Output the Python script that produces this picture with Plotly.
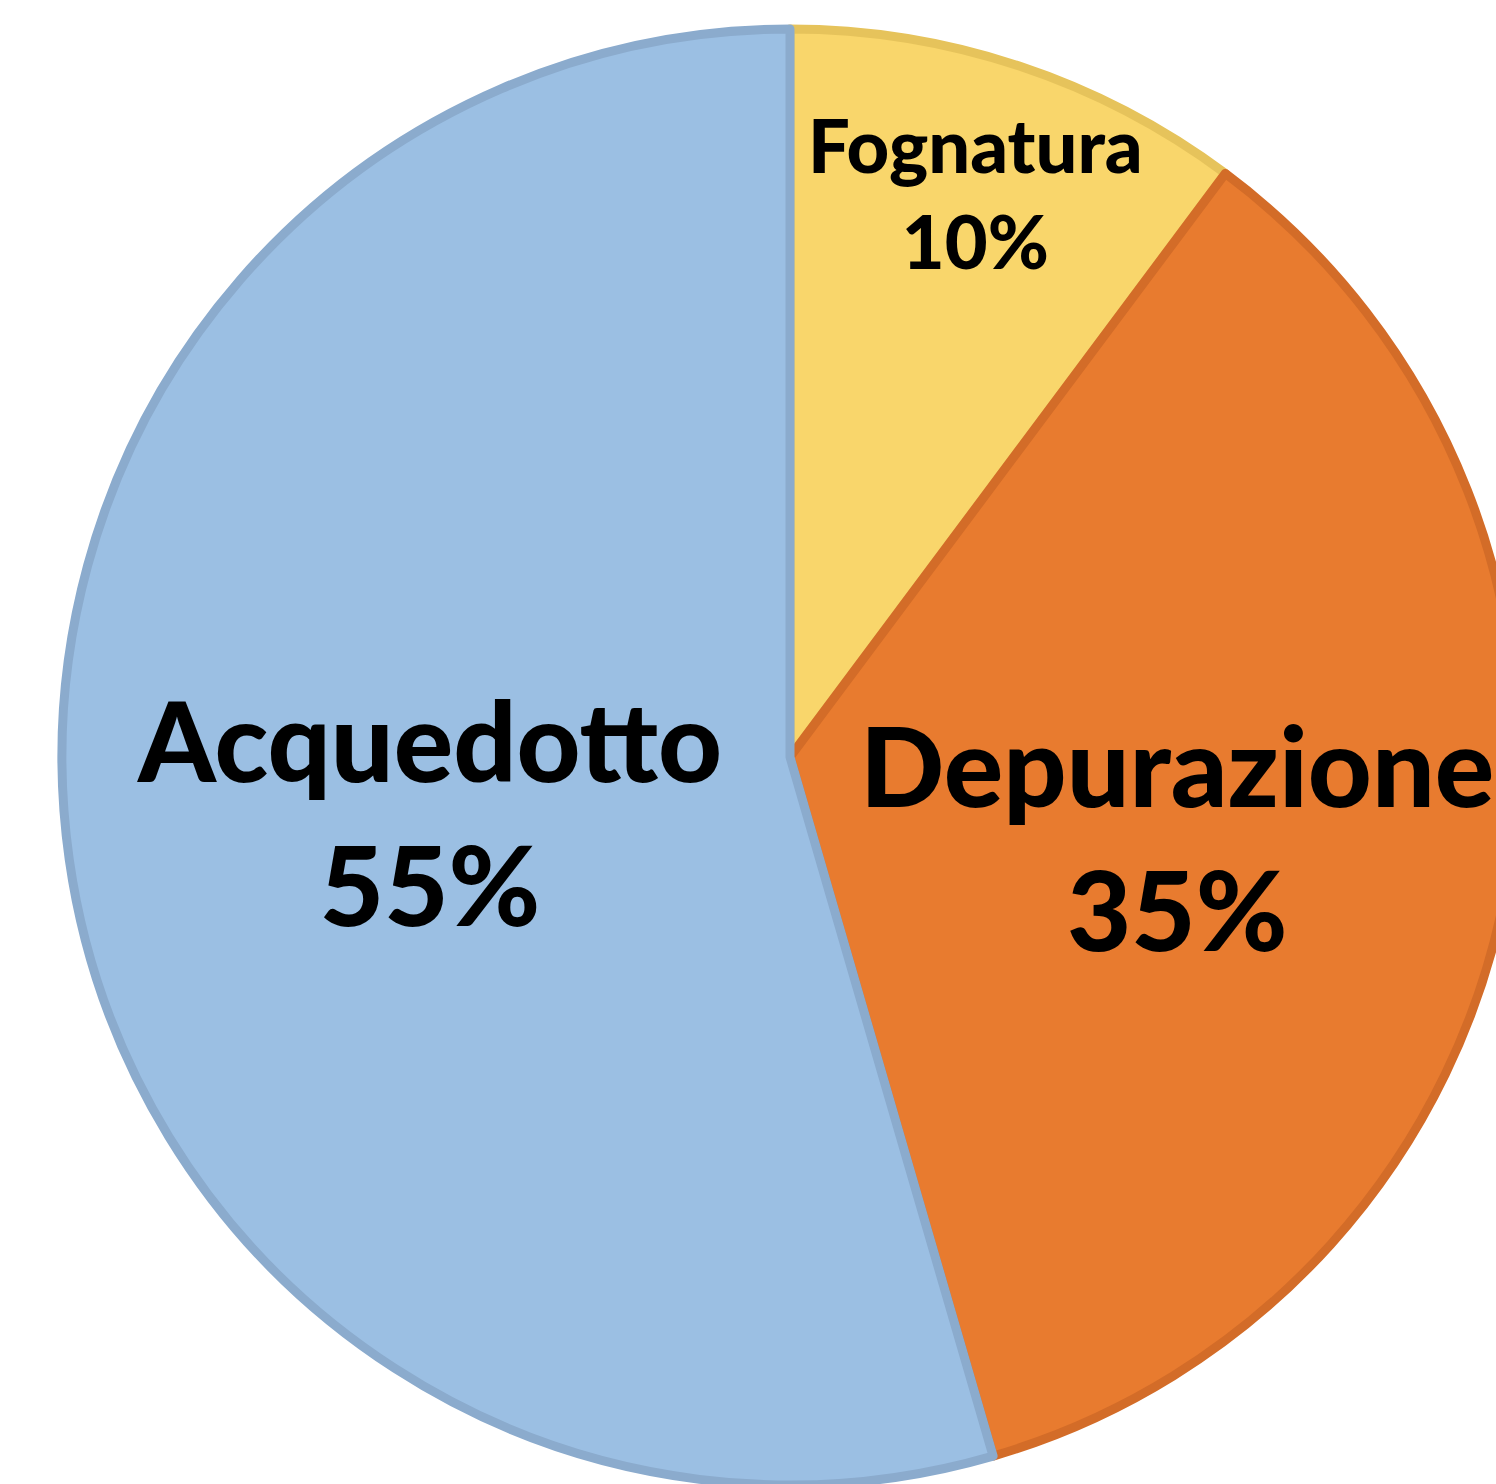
import math
import plotly.graph_objects as go

# ---- data ----
labels = ["Fognatura", "Depurazione", "Acquedotto"]
values = [10.2, 35.3, 54.5]

# ---- styles ----
fill_colors = ["#F9D66B", "#E87B2F", "#9BBFE3"]
line_colors = ["#E6C35B", "#D36C28", "#8BABCD"]
label_sizes = [74, 111, 111]
label_radius_frac = [0.81, 0.54, 0.50]
label_dy_px = [-5, 9, 3]

W, H = 1530, 1500
cx, cy, R = 790, 757, 728  # pie centre / radius in pixels

fig = go.Figure(go.Pie(
    labels=labels,
    values=values,
    sort=False,
    direction="clockwise",
    rotation=0,
    textinfo="none",
    hoverinfo="label+percent",
    marker=dict(colors=fill_colors, line=dict(color=line_colors, width=9)),
    domain=dict(x=[(cx - R) / W, (cx + R) / W],
                y=[(H - cy - R) / H, (H - cy + R) / H]),
    showlegend=False,
))

total = sum(values)
cum = 0
annotations = []
for lab, v, size, frac, dy in zip(labels, values, label_sizes, label_radius_frac, label_dy_px):
    mid = (cum + v / 2) / total * 2 * math.pi
    cum += v
    px = cx + frac * R * math.sin(mid)
    py = cy - frac * R * math.cos(mid) + dy
    pct = int(100 * v / total + 0.5)
    annotations.append(dict(
        x=px / W, y=1 - py / H, xref="paper", yref="paper",
        xanchor="center", yanchor="middle", showarrow=False,
        text=f"{lab}<br>{pct}%",
        font=dict(family="Lato", size=size, color="black", weight=900),
    ))

fig.update_layout(
    width=W, height=H,
    margin=dict(l=0, r=0, t=0, b=0),
    paper_bgcolor="white",
    plot_bgcolor="white",
    annotations=annotations,
)

fig.write_html(
    "out.html",
    config={"displayModeBar": False},
    post_script="document.body.style.margin='0';document.body.style.overflow='hidden';",
)
